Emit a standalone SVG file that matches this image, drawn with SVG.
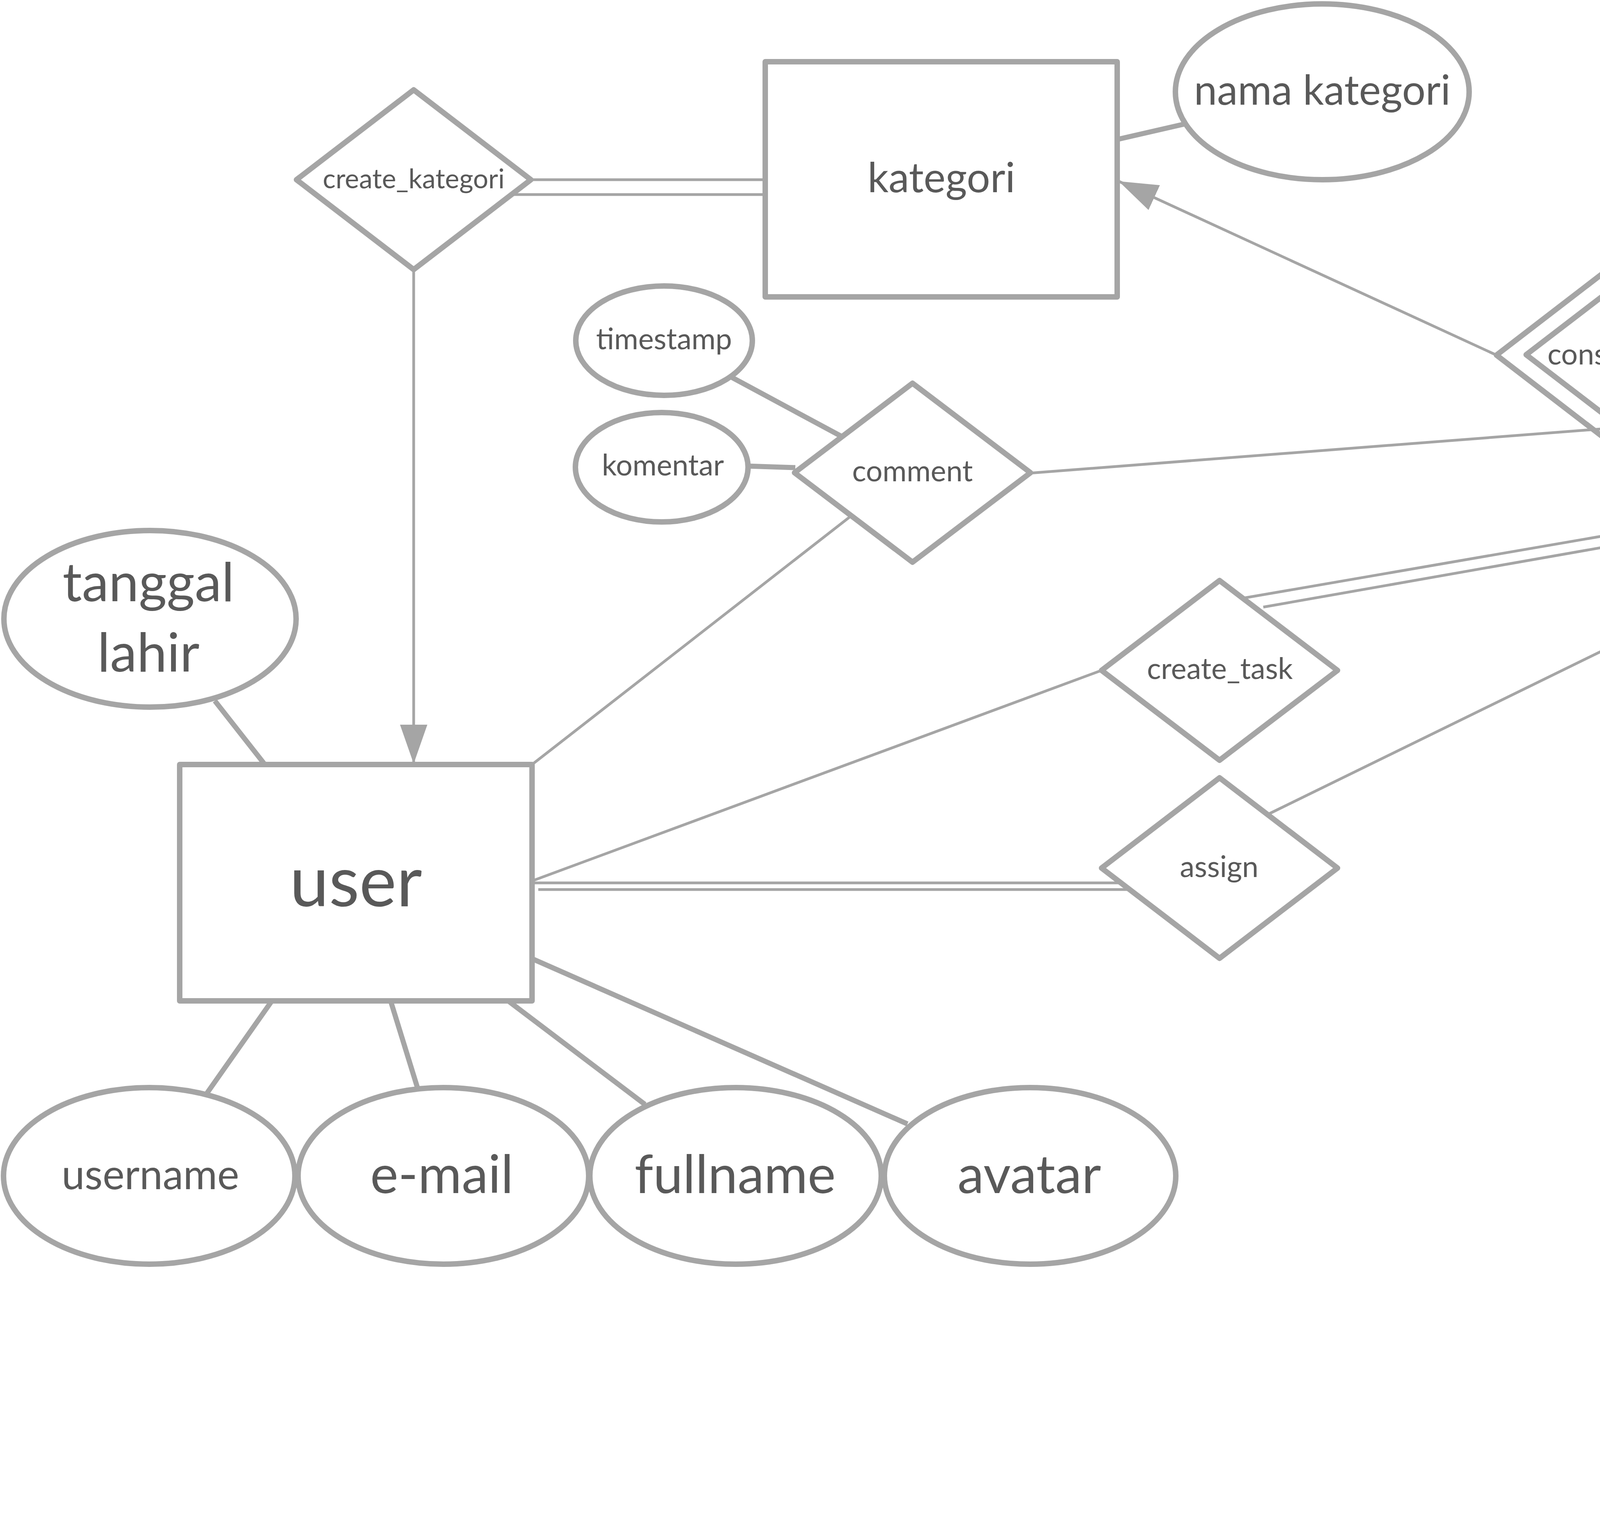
<svg xmlns="http://www.w3.org/2000/svg" width="6319" height="3919" viewBox="0 0 6319 3919">
<style>
.shape{fill:#ffffff;stroke:#a5a5a5;stroke-width:14;stroke-linejoin:round}
.attr{stroke:#a5a5a5;stroke-width:13;fill:none;stroke-linecap:butt}
.rel{stroke:#a5a5a5;stroke-width:7;fill:none}
.t{font-family:Lato,'Liberation Sans',sans-serif;fill:#595959;text-anchor:middle}
.s{font-size:75px}
.m{font-size:106px}
.l{font-size:136px}
</style>
<defs>
<marker id="arr" markerUnits="userSpaceOnUse" markerWidth="100" markerHeight="70" refX="100" refY="35" orient="auto" viewBox="0 0 100 70"><path d="M0,0 L100,35 L0,70 z" fill="#a5a5a5"/></marker>
</defs>
<rect x="0" y="0" width="6319" height="3919" fill="#ffffff"/>

<g id="nodes">
<g id="kategori"><rect class="shape" x="1959" y="158" width="901" height="602"/><text class="t m" x="2410" y="492">kategori</text></g>
<g id="nama_kategori"><ellipse class="shape" cx="3385" cy="235" rx="376" ry="225"/><text class="t m" x="3385" y="268">nama kategori</text></g>
<g id="create_kategori"><polygon class="shape" points="759,460 1059,230 1359,460 1059,690"/><text class="t" style="font-size:69px" x="1059" y="482">create_kategori</text></g>
<g id="timestamp"><ellipse class="shape" cx="1700" cy="872" rx="226" ry="140"/><text class="t s" x="1700" y="894">timestamp</text></g>
<g id="komentar"><ellipse class="shape" cx="1694" cy="1196" rx="221" ry="140"/><text class="t s" x="1697" y="1217">komentar</text></g>
<g id="comment"><polygon class="shape" points="2034,1210 2336,981 2638,1210 2336,1439"/><text class="t s" x="2336" y="1232">comment</text></g>
<g id="consists_of"><polygon class="shape" points="3831,909 4134,676 4437,909 4134,1142"/><polygon class="shape" points="3907,908 4134,734 4361,908 4134,1082"/><text class="t s" x="4136" y="933">consists of</text></g>
<g id="task"><rect class="shape" style="stroke-width:16" x="5030" y="609" width="904" height="601"/><rect class="shape" style="stroke-width:16" x="5109" y="659" width="751" height="501"/><text class="t" style="font-size:133px" x="5484" y="953">task</text></g>
<g id="attr_nama"><ellipse class="shape" cx="4505" cy="310" rx="224" ry="140"/><text class="t s" x="4508" y="332">nama</text><line x1="4398" y1="352" x2="4605" y2="352" stroke="#a5a5a5" stroke-width="10" stroke-linecap="round" stroke-dasharray="0 23"/></g>
<g id="status"><ellipse class="shape" cx="4955" cy="310" rx="220" ry="140"/><text class="t s" x="4958" y="332">status</text></g>
<g id="attachment"><ellipse class="shape" cx="5483" cy="310" rx="301" ry="140"/><text class="t s" x="5483" y="332">attachment</text></g>
<g id="deadline"><ellipse class="shape" cx="6082" cy="310" rx="228" ry="140"/><text class="t s" x="6082" y="332">deadline</text></g>
<g id="tanggal_lahir"><ellipse class="shape" cx="384" cy="1584" rx="374" ry="226"/><text class="t" style="font-size:138px" x="380" y="1539">tanggal</text><text class="t" style="font-size:138px" x="380" y="1719">lahir</text></g>
<g id="user"><rect class="shape" x="460" y="1957" width="902" height="605"/><text class="t" style="font-size:180px" x="911" y="2320">user</text></g>
<g id="username"><ellipse class="shape" cx="382" cy="3010" rx="373" ry="226"/><text class="t m" x="385" y="3044">username</text></g>
<g id="email"><ellipse class="shape" cx="1135" cy="3010" rx="372" ry="226"/><text class="t l" x="1131" y="3054">e-mail</text></g>
<g id="fullname"><ellipse class="shape" cx="1883" cy="3010" rx="373" ry="226"/><text class="t l" x="1882" y="3054">fullname</text></g>
<g id="avatar"><ellipse class="shape" cx="2637" cy="3010" rx="373" ry="226"/><text class="t l" x="2635" y="3054">avatar</text></g>
<g id="create_task"><polygon class="shape" points="2820,1716 3122,1486 3424,1716 3122,1946"/><text class="t s" x="3123" y="1738">create_task</text></g>
<g id="assign"><polygon class="shape" points="2820,2222 3122,1991 3424,2222 3122,2453"/><text class="t s" x="3121" y="2245">assign</text></g>
<g id="have_tags"><polygon class="shape" points="5103,1809 5409,1586 5715,1809 5409,2032"/><text class="t s" x="5409" y="1835">have_tags</text></g>
<g id="tag"><rect class="shape" x="4958" y="2633" width="904" height="601"/><text class="t l" x="5409" y="2984">Tag</text></g>
<g id="id_tag"><ellipse class="shape" cx="5182" cy="3684" rx="374" ry="224"/><text class="t s" x="5182" y="3708">ID_Tag</text></g>
<g id="tag_name"><ellipse class="shape" cx="5937" cy="3684" rx="375" ry="224"/><text class="t s" x="5937" y="3708">Tag_name</text></g>
</g>

<g id="connectors">
<line class="attr" x1="2860" y1="357" x2="3030" y2="318"/>
<line class="attr" x1="1868" y1="963" x2="2156" y2="1118"/>
<line class="attr" x1="1914" y1="1193" x2="2036" y2="1197"/>
<line class="attr" x1="4670" y1="406" x2="5030" y2="637"/>
<line class="attr" x1="5064" y1="433" x2="5219" y2="604"/>
<line class="attr" x1="5483" y1="450" x2="5483" y2="604"/>
<line class="attr" x1="5965" y1="431" x2="5786" y2="604"/>
<line class="attr" x1="550" y1="1794" x2="678" y2="1957"/>
<line class="attr" x1="696" y1="2562" x2="530" y2="2798"/>
<line class="attr" x1="1000" y1="2562" x2="1068" y2="2782"/>
<line class="attr" x1="1301" y1="2562" x2="1651" y2="2827"/>
<line class="attr" x1="1362" y1="2454" x2="2323" y2="2877"/>
<line class="attr" x1="5319" y1="3234" x2="5247" y2="3460"/>
<line class="attr" x1="5617" y1="3234" x2="5791" y2="3469"/>

<line class="rel" x1="1359" y1="460" x2="1959" y2="460"/>
<line class="rel" x1="1316" y1="498" x2="1959" y2="498"/>
<line class="rel" x1="1059" y1="690" x2="1059" y2="1955" marker-end="url(#arr)"/>
<line class="rel" x1="3831" y1="909" x2="2864" y2="464" marker-end="url(#arr)"/>
<line class="rel" x1="4360" y1="871" x2="5030" y2="871"/>
<line class="rel" x1="4384" y1="929" x2="5030" y2="929"/>
<line class="rel" x1="2638" y1="1211" x2="5030" y2="1026"/>
<line class="rel" x1="2177" y1="1322" x2="1362" y2="1957"/>
<line class="rel" x1="1362" y1="2255" x2="2820" y2="1716"/>
<line class="rel" x1="1362" y1="2260" x2="2867" y2="2260"/>
<line class="rel" x1="1378" y1="2277" x2="2890" y2="2277"/>
<line class="rel" x1="3183" y1="1531" x2="5030" y2="1212"/>
<path class="rel" d="M3234,1554 L4922,1257 A25,25 0 0 1 4970,1248.5 L5092,1227"/>
<line class="rel" x1="3247" y1="2084" x2="5030" y2="1212"/>
<line class="rel" x1="5408" y1="1586" x2="5408" y2="1216" marker-end="url(#arr)"/>
<line class="rel" x1="5430" y1="1590" x2="5430" y2="1212"/>
<line class="rel" x1="5409" y1="2032" x2="5409" y2="2633"/>
</g>
</svg>
